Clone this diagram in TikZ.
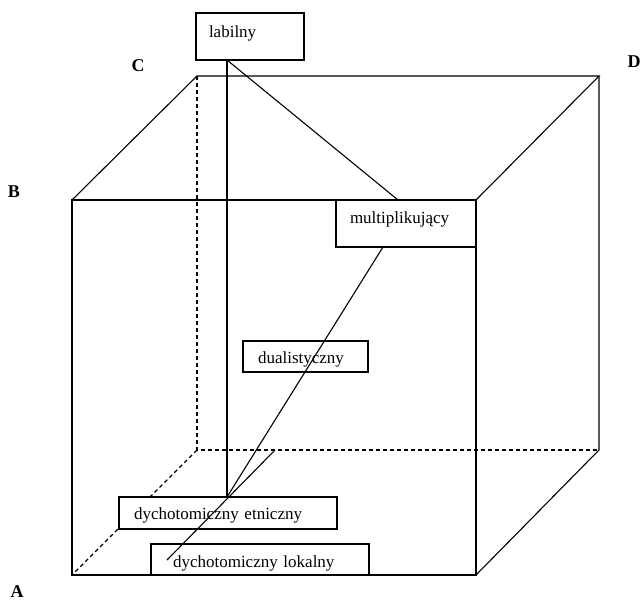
\documentclass[tikz,border=0pt]{standalone}
\usepackage{fontspec}
\setmainfont{Liberation Serif}
\usetikzlibrary{calc}
\begin{document}
\begin{tikzpicture}[x=1pt,y=-1pt,
  edge/.style={line width=1.1pt},
  hidden/.style={line width=1.1pt, dash pattern=on 4pt off 3pt},
  link/.style={line width=1.1pt},
  % box: width, height, left padding, baseline offset from the top
  tag/.style n args={4}{draw, line width=1.1pt, fill=white, anchor=north west,
    outer sep=0pt, inner ysep=0pt, inner xsep=#3, minimum height=0pt,
    text width=#1-2*#3, align=left, text height=#4, text depth=#2-#4,
    font=\fontsize{17}{20}\selectfont},
  corner/.style={inner sep=0pt, font=\fontsize{18}{20}\selectfont\bfseries}
]
\fill[white] (0,0) rectangle (642,603);
\useasboundingbox (0,0) rectangle (642,603);

% cube corners: front face and back face
\coordinate (fbl) at (72,575);
\coordinate (fbr) at (476,575);
\coordinate (ftr) at (476,200);
\coordinate (ftl) at (72,200);
\coordinate (bbl) at (197,450);
\coordinate (bbr) at (599,450);
\coordinate (btr) at (599,76);
\coordinate (btl) at (197,76);

% visible edges
\draw[edge] (fbl) -- (fbr) -- (ftr) -- (ftl) -- cycle;
\draw[edge] (ftl) -- (btl) -- (btr) -- (ftr);
\draw[edge] (btr) -- (bbr) -- (fbr);
% hidden edges
\draw[hidden] (btl) -- (bbl) -- (bbr);
\draw[hidden] (bbl) -- (fbl);

% boxes
\node[tag={108pt}{47pt}{13pt}{24pt}] (lab) at (196,13) {labilny};
\node[tag={140pt}{47pt}{14pt}{23pt}] (mul) at (336,200) {multiplikujący};
\node[tag={125pt}{31pt}{15pt}{22pt}] (dua) at (243,341) {dualistyczny};
\node[tag={218pt}{32pt}{15pt}{22pt}] (etn) at (119,497) {dychotomiczny etniczny};
\node[tag={218pt}{31pt}{22pt}{23pt}] (lok) at (151,544) {dychotomiczny lokalny};

% attachment points on the boxes
\coordinate (labfoot) at ([xshift=31pt]lab.south west);
\coordinate (multop) at ([xshift=62pt]mul.north west);
\coordinate (mulfoot) at ([xshift=47pt]mul.south west);
\coordinate (etntop) at ([xshift=108pt]etn.north west);
\coordinate (depth) at (275,450);
\coordinate (lokin) at ([xshift=16pt,yshift=-16pt]lok.north west);

% connectors
\draw[link] (labfoot) -- (etntop);
\draw[link] (labfoot) -- (multop);
\draw[link] (mulfoot) -- (etntop);
\draw[link] (depth) -- (lokin);

% corner labels
\node[corner] (A) at (17,592) {A};
\node[corner] (B) at (14,192) {B};
\node[corner] (C) at (138,66) {C};
\node[corner] (D) at (634,62) {D};
\end{tikzpicture}
\end{document}
